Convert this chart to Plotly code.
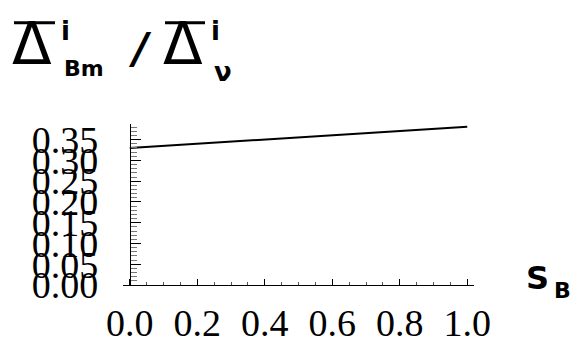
import plotly.graph_objects as go

# data
s_vals = [0.0, 1.0]
ratio_vals = [0.330, 0.381]
x_tick_vals = [0.0, 0.2, 0.4, 0.6, 0.8, 1.0]
y_tick_vals = [0.0, 0.05, 0.10, 0.15, 0.20, 0.25, 0.30, 0.35]

W, H = 586, 356
ML, MR, MT, MB = 123, 112, 124, 58
XR = [-0.02, 1.02]
YR = [0.0, 0.3877]

def px_x(px):
    return (px - ML) / (W - ML - MR)

def px_y(py):
    return (H - MB - py) / (H - MT - MB)

fig = go.Figure()
fig.add_trace(go.Scatter(x=s_vals, y=ratio_vals, mode="lines",
                         line=dict(color="black", width=2), showlegend=False,
                         hoverinfo="skip"))

serif = "Liberation Serif, Times New Roman, serif"
fig.update_layout(
    width=W, height=H,
    margin=dict(l=ML, r=MR, t=MT, b=MB),
    paper_bgcolor="white", plot_bgcolor="white",
    xaxis=dict(range=XR, showgrid=False, zeroline=False, showline=True,
               linecolor="black", linewidth=1,
               tickvals=x_tick_vals, tickformat=".1f", ticks="inside",
               ticklen=6, tickcolor="black", tickwidth=1,
               minor=dict(dtick=0.05, tick0=0, ticks="inside", ticklen=3,
                          tickcolor="#555", showgrid=False),
               tickfont=dict(family=serif, size=38, color="black"),
               ticklabelstandoff=4),
    yaxis=dict(range=YR, showgrid=False, zeroline=False, showline=True,
               linecolor="black", linewidth=1, anchor="free",
               position=0.02 / 1.04,
               tickvals=y_tick_vals, tickformat=".2f", ticks="inside",
               ticklen=10, tickcolor="black", tickwidth=1,
               minor=dict(dtick=0.01, tick0=0, ticks="inside", ticklen=6,
                          tickcolor="#777", showgrid=False),
               tickfont=dict(family=serif, size=38, color="black"),
               ticklabelstandoff=24),
)

sans = "DejaVu Sans, sans-serif"
def ann(text, px, py, size, anchor="left"):
    fig.add_annotation(text=text, x=px_x(px), y=px_y(py), xref="paper", yref="paper",
                       xanchor=anchor, yanchor="middle", showarrow=False,
                       font=dict(family=sans, size=size, color="black"))

def bar(x0, x1, py):
    fig.add_shape(type="line", xref="paper", yref="paper",
                  x0=px_x(x0), x1=px_x(x1), y0=px_y(py), y1=px_y(py),
                  line=dict(color="black", width=3))

ann("Δ", 10, 38, 58)
bar(14, 55, 14.5)
ann("<b>i</b>", 59, 24, 26)
ann("<b>Bm</b>", 62, 64, 22)
ann("<b><i>/</i></b>", 126, 42, 42)
ann("Δ", 161, 38, 58)
bar(165, 205, 14.5)
ann("<b>i</b>", 209, 24, 26)
ann("<b>ν</b>", 212, 68, 26)
ann("<b>S</b>", 524, 290, 32)
ann("<b>B</b>", 552, 304, 22)

fig.write_html("out.html")
